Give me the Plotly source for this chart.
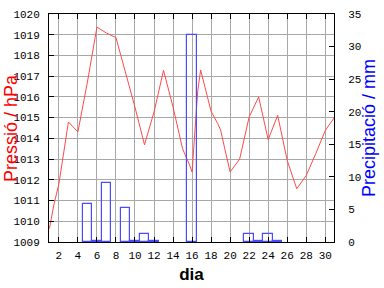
import plotly.graph_objects as go

# Pressure readings (day, hPa)
p_days = [1, 1.5, 2, 2.5, 3, 4, 5, 6, 7, 8, 9, 10, 11, 12, 13, 14, 15, 15.4, 15.75, 16,
          16.3, 16.6, 16.9, 17.65, 18, 18.7, 19, 19.4, 20, 21, 22, 23, 24, 25, 26, 27,
          28, 29, 30, 31]
pressure = [1009.64, 1010.85, 1011.8, 1013.4, 1014.79, 1014.31, 1016.72, 1019.37, 1019.08,
            1018.86, 1017.2, 1015.5, 1013.69, 1015.27, 1017.28, 1015.51, 1013.5, 1013.1,
            1012.7, 1012.38, 1014.4, 1016.3, 1017.3, 1016.0, 1015.3, 1014.71, 1014.4,
            1013.58, 1012.38, 1013.0, 1015.03, 1016.0, 1013.94, 1015.11, 1012.94, 1011.57,
            1012.21, 1013.26, 1014.38, 1015.03]

# Daily precipitation (mm); None = no rain recorded
r_days = list(range(1, 31))
rain = [None, None, None, None, 5.8, 0.15, 9.1, None, 5.2, 0.15, 1.2, 0.15, None, None, None,
        31.8, None, None, None, None, None, 1.2, 0.15, 1.2, 0.15, None, None, None, None, None]

x_ticks = list(range(2, 31, 2))

RED = "#ff4a4a"
BLUE = "#4a4aff"
GRID = "#a8a8a8"
tickfont = dict(family="Liberation Mono, DejaVu Sans Mono, monospace", size=11, color="black")
titlefam = "Liberation Sans, Arial, sans-serif"

fig = go.Figure()
fig.add_trace(go.Bar(x=r_days, y=rain, width=1.0, yaxis="y2",
                     marker=dict(color="rgba(0,0,0,0)", line=dict(color=BLUE, width=1.2)),
                     showlegend=False))
fig.add_trace(go.Scatter(x=p_days, y=pressure, mode="lines", yaxis="y",
                         line=dict(color=RED, width=1), showlegend=False))

fig.update_layout(
    width=384, height=288,
    margin=dict(l=49, r=50, t=14, b=46),
    paper_bgcolor="white", plot_bgcolor="white",
    bargap=0,
    xaxis=dict(range=[0.96, 30.92], tickvals=x_ticks, ticktext=[str(v) for v in x_ticks],
               showgrid=True, gridcolor=GRID, gridwidth=1, zeroline=False,
               ticks="inside", ticklen=5, tickcolor="black", tickwidth=1,
               showline=True, linecolor="black", linewidth=1, mirror="ticks",
               tickfont=tickfont, ticklabelstandoff=3, automargin=False,
               title=dict(text="<b>dia</b>", font=dict(family=titlefam, size=17, color="black"),
                          standoff=6)),
    yaxis=dict(range=[1009, 1020], dtick=1, tick0=1009,
               showgrid=True, gridcolor=GRID, gridwidth=1, zeroline=False,
               ticks="inside", ticklen=5, tickcolor="black", tickwidth=1,
               showline=True, linecolor="black", linewidth=1, mirror=False,
               tickfont=tickfont, ticklabelstandoff=6, automargin=False),
    yaxis2=dict(range=[0, 35], dtick=5, tick0=0, overlaying="y", side="right",
                showgrid=False, zeroline=False,
                ticks="inside", ticklen=5, tickcolor="black", tickwidth=1,
                showline=True, linecolor="black", linewidth=1, automargin=False,
                tickfont=tickfont, ticklabelstandoff=11),
    annotations=[
        dict(text="Pressió / hPa", textangle=-90, xref="paper", yref="paper",
             x=0, y=0.5, xanchor="center", yanchor="middle", xshift=-38, showarrow=False,
             font=dict(family=titlefam, size=18, color="red")),
        dict(text="Precipitació / mm", textangle=-90, xref="paper", yref="paper",
             x=1, y=0.5, xanchor="center", yanchor="middle", xshift=35, showarrow=False,
             font=dict(family=titlefam, size=18, color="blue")),
    ],
)

fig.write_html("out.html")
